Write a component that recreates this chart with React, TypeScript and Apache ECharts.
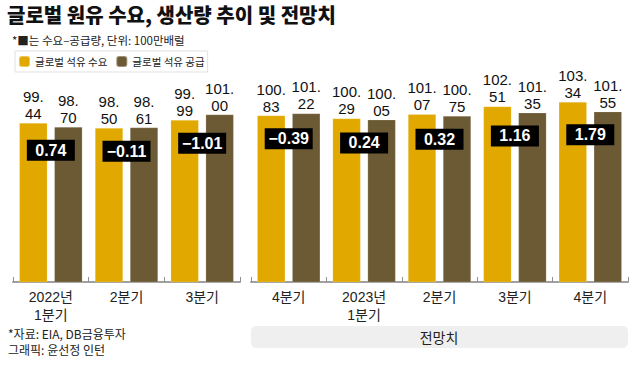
import React, { useEffect, useRef } from "react";
import * as echarts from "echarts";

const pastCategories = ["2022년\n1분기", "2분기", "3분기"];
const forecastCategories = ["4분기", "2023년\n1분기", "2분기", "3분기", "4분기"];

const pastDemand = [99.44, 98.5, 99.99];
const pastSupply = [98.7, 98.61, 101.0];
const pastDiff = [0.74, -0.11, -1.01];

const forecastDemand = [100.83, 100.29, 101.07, 102.51, 103.34];
const forecastSupply = [101.22, 100.05, 100.75, 101.35, 101.55];
const forecastDiff = [-0.39, 0.24, 0.32, 1.16, 1.79];

const DEMAND_NAME = "글로벌 석유 수요";
const SUPPLY_NAME = "글로벌 석유 공급";
const GOLD = "#E1A900";
const BROWN = "#6B5A34";
const FONT = "'Liberation Sans', 'Noto Sans CJK KR', sans-serif";
const KFONT = "'Noto Sans CJK KR', sans-serif";

function valueLabel(v: number) {
  const s = v.toFixed(2);
  const [a, b] = s.split(".");
  return a + ".\n" + b;
}
function diffLabel(v: number) {
  const s = Math.abs(v).toFixed(2);
  return (v < 0 ? "\u2212" : "") + s;
}

function barSeries(name: string, data: number[], color: string, idx: number) {
  return {
    type: "bar",
    name,
    xAxisIndex: idx,
    yAxisIndex: idx,
    data,
    barWidth: 28,
    barGap: "25%",
    itemStyle: { color, borderColor: "rgba(255,255,255,0.35)", borderWidth: 0.5 },
    label: {
      show: true,
      position: "top",
      distance: 1,
      formatter: (p: any) => valueLabel(p.value),
      fontFamily: FONT,
      fontSize: 15,
      lineHeight: 17,
      color: "#111",
    },
  };
}

function boxSeries(demand: number[], supply: number[], diff: number[], idx: number) {
  return {
    type: "scatter",
    xAxisIndex: idx,
    yAxisIndex: idx,
    symbol: "rect",
    symbolSize: [48, 21],
    itemStyle: { color: "#000", opacity: 1 },
    z: 10,
    data: demand.map((d, i) => [i, Math.min(d, supply[i]) - 4.3]),
    label: {
      show: true,
      position: "inside",
      formatter: (p: any) => diffLabel(diff[p.dataIndex]),
      fontFamily: FONT,
      fontSize: 16,
      fontWeight: "bold",
      color: "#fff",
    },
  };
}

function xAxisDef(data: string[], idx: number) {
  return {
    type: "category",
    gridIndex: idx,
    data,
    axisLine: { show: true, lineStyle: { color: "#a0a0a0", width: 2 } },
    axisTick: { show: true, inside: true, length: 5, lineStyle: { color: "#909090", width: 1 } },
    axisLabel: {
      fontFamily: FONT,
      fontSize: 14,
      lineHeight: 18,
      color: "#222",
      margin: 6,
      interval: 0,
    },
  };
}

export default function App() {
  const ref = useRef<HTMLDivElement>(null);
  useEffect(() => {
    if (!ref.current) return;
    const chart = echarts.init(ref.current, null, { renderer: "svg" });
    chart.setOption({
      animation: false,
      backgroundColor: "#fff",
      grid: [
        { left: 13, width: 227, top: 66, height: 216, containLabel: false, outerBoundsMode: "none" },
        { left: 251, width: 377, top: 66, height: 216, containLabel: false, outerBoundsMode: "none" },
      ],
      xAxis: [xAxisDef(pastCategories, 0), xAxisDef(forecastCategories, 1)],
      yAxis: [
        { type: "value", gridIndex: 0, min: 70, max: 110, show: false },
        { type: "value", gridIndex: 1, min: 70, max: 110, show: false },
      ],
      legend: {
        left: 15,
        top: 51,
        data: [DEMAND_NAME, SUPPLY_NAME],
        icon: "roundRect",
        itemWidth: 11,
        itemHeight: 11,
        itemGap: 8,
        borderColor: "#e0e0e0",
        borderWidth: 1,
        padding: [4, 3, 4, 3],
        textStyle: { fontFamily: KFONT, fontSize: 10.5, color: "#222" },
        selectedMode: false,
      },
      series: [
        barSeries(DEMAND_NAME, pastDemand, GOLD, 0),
        barSeries(SUPPLY_NAME, pastSupply, BROWN, 0),
        barSeries(DEMAND_NAME, forecastDemand, GOLD, 1),
        barSeries(SUPPLY_NAME, forecastSupply, BROWN, 1),
        boxSeries(pastDemand, pastSupply, pastDiff, 0),
        boxSeries(forecastDemand, forecastSupply, forecastDiff, 1),
      ],
      graphic: [
        {
          type: "text",
          left: 7,
          top: 4,
          style: {
            text: "글로벌 원유 수요, 생산량 추이 및 전망치",
            font: "900 20px 'Noto Sans CJK KR', sans-serif",
            fill: "#111",
          },
        },
        {
          type: "text",
          left: 12,
          top: 34,
          style: {
            text: "*■는 수요–공급량, 단위: 100만배럴",
            font: "11.5px 'Noto Sans CJK KR', sans-serif",
            fill: "#222",
          },
        },
        {
          type: "rect",
          shape: { x: 251, y: 326, width: 377, height: 22, r: 5 },
          style: { fill: "#efefef" },
        },
        {
          type: "text",
          x: 439,
          y: 337,
          style: {
            text: "전망치",
            font: "14px 'Noto Sans CJK KR', sans-serif",
            fill: "#222",
            align: "center",
            verticalAlign: "middle",
          },
        },
        {
          type: "text",
          left: 8,
          top: 327,
          style: {
            text: "*자료: EIA, DB금융투자",
            font: "12px 'Noto Sans CJK KR', sans-serif",
            fill: "#222",
          },
        },
        {
          type: "text",
          left: 8,
          top: 343,
          style: {
            text: "그래픽: 윤선정 인턴",
            font: "12px 'Noto Sans CJK KR', sans-serif",
            fill: "#222",
          },
        },
      ],
    });
    return () => chart.dispose();
  }, []);
  return (
    <div
      ref={ref}
      style={{ position: "fixed", left: 0, top: 0, width: 640, height: 365 }}
    />
  );
}
